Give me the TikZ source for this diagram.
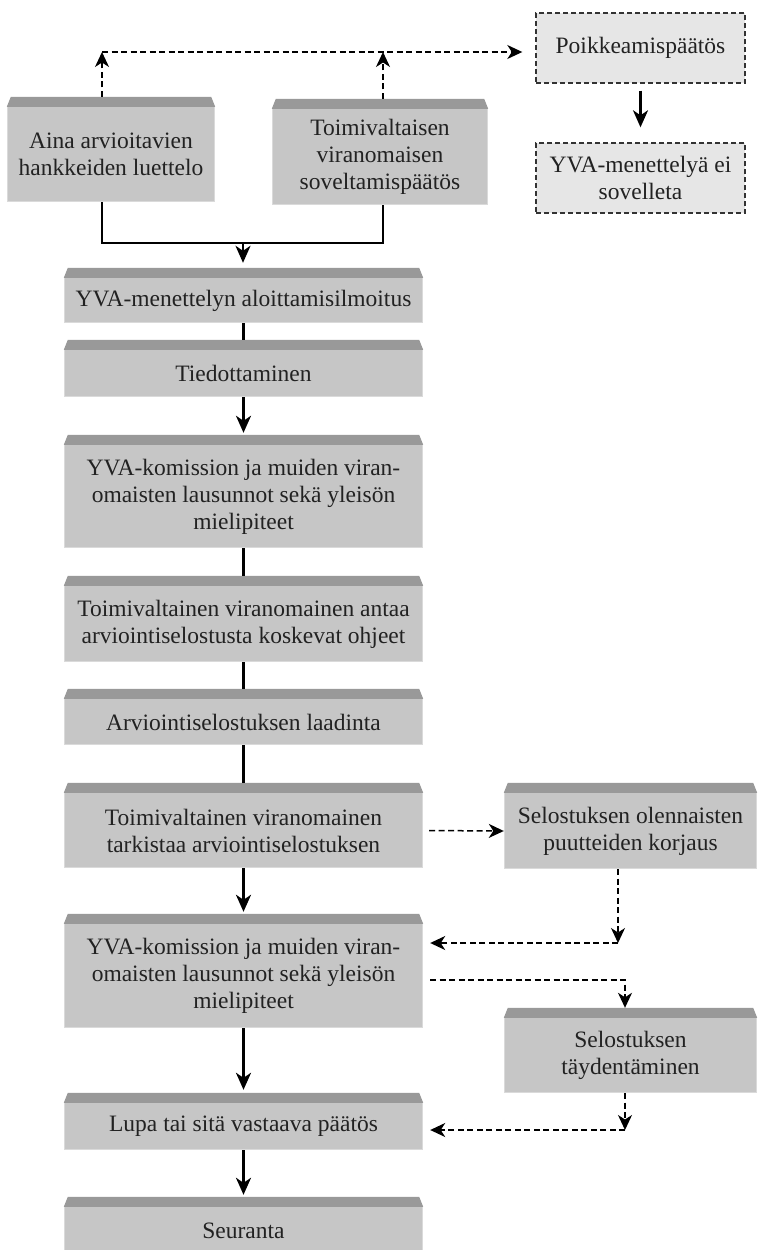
\documentclass[tikz,border=0pt]{standalone}
\usepackage{fontspec}
\setmainfont{Liberation Serif}
\usetikzlibrary{arrows.meta,backgrounds}
\definecolor{bodyc}{HTML}{C6C6C6}
\definecolor{stripc}{HTML}{999999}
\definecolor{edgec}{HTML}{DADADA}
\definecolor{dashfill}{HTML}{E6E6E6}
\definecolor{dashline}{HTML}{333333}
\definecolor{txt}{HTML}{222222}
\begin{document}
\begin{tikzpicture}[x=1pt,y=-1pt,
  procbox/.style={inner sep=0pt, align=center, text=txt, font=\fontsize{23.5}{27}\selectfont},
  dashbox/.style={procbox, draw=dashline, fill=dashfill, line width=1.4pt, dash pattern=on 5pt off 3pt},
  solidline/.style={line width=2.2pt, black},
  solidarrow/.style={solidline, -{Stealth[length=17pt,width=15pt,inset=5pt]}},
  dashline/.style={line width=1.5pt, black, dash pattern=on 6pt off 3.5pt},
  dasharrow/.style={dashline, -{Stealth[length=15pt,width=14pt,inset=4.5pt]}}]
\useasboundingbox (0,0) rectangle (760,1250);
\clip (0,0) rectangle (760,1250);

% process boxes (body part; top strip drawn on background)
\node[procbox, minimum width=208pt, minimum height=95pt] (nA) at (111,154.5) {Aina arvioitavien\\hankkeiden luettelo};
\node[procbox, minimum width=216pt, minimum height=96pt] (nB) at (380,157) {Toimivaltaisen\\viranomaisen\\soveltamispäätös};
\node[dashbox, minimum width=209pt, minimum height=70pt] (nP) at (640.5,48) {Poikkeamispäätös};
\node[dashbox, minimum width=209pt, minimum height=70pt] (nQ) at (640.5,178) {YVA-menettelyä ei\\sovelleta};

\node[procbox, minimum width=359pt, minimum height=45pt] (nC) at (243.5,300.5) {YVA-menettelyn aloittamisilmoitus};
\node[procbox, minimum width=359pt, minimum height=47pt] (nD) at (243.5,373.5) {Tiedottaminen};
\node[procbox, minimum width=359pt, minimum height=103pt] (nE) at (243.5,496.5) {YVA-komission ja muiden viran-\\omaisten lausunnot sekä yleisön\\mielipiteet};
\node[procbox, minimum width=359pt, minimum height=76pt] (nF) at (243.5,624) {Toimivaltainen viranomainen antaa\\arviointiselostusta koskevat ohjeet};
\node[procbox, minimum width=359pt, minimum height=46pt] (nG) at (243.5,722) {Arviointiselostuksen laadinta};
\node[procbox, minimum width=359pt, minimum height=75pt] (nH) at (243.5,830.5) {Toimivaltainen viranomainen\\tarkistaa arviointiselostuksen};
\node[procbox, minimum width=359pt, minimum height=104pt] (nI) at (243.5,976) {YVA-komission ja muiden viran-\\omaisten lausunnot sekä yleisön\\mielipiteet};
\node[procbox, minimum width=359pt, minimum height=47pt] (nJ) at (243.5,1126.5) {Lupa tai sitä vastaava päätös};
\node[procbox, minimum width=359pt, minimum height=47pt] (nK) at (243.5,1230.5) {Seuranta};

\node[procbox, minimum width=253pt, minimum height=76pt] (nS1) at (630.5,831) {Selostuksen olennaisten\\puutteiden korjaus};
\node[procbox, minimum width=253pt, minimum height=75pt] (nS2) at (630.5,1055.5) {Selostuksen\\täydentäminen};

\begin{scope}[on background layer]
\foreach \n in {nA,nB,nC,nD,nE,nF,nG,nH,nI,nJ,nK,nS1,nS2} {
  \fill[edgec] (\n.north west) rectangle (\n.south east);
  \fill[bodyc] ([xshift=1pt]\n.north west) rectangle ([xshift=-1pt,yshift=1pt]\n.south east);
  \fill[stripc] (\n.north west) -- ([xshift=4pt,yshift=10pt]\n.north west)
     -- ([xshift=-4pt,yshift=10pt]\n.north east) -- (\n.north east) -- cycle;
  \coordinate (\n-t) at ([yshift=10pt]\n.north);
}
\end{scope}

% helper coordinates
\coordinate (hl) at (102,52);
\coordinate (hb) at (383,52);
\coordinate (jn) at (243,243);
\coordinate (c1) at (618,943);
\coordinate (c2) at (625,980);
\coordinate (c3) at (625,1130);

% top dashed connectors
\draw[dasharrow] (nA-t -| hl) -- (hl);
\draw[dasharrow] (nB-t -| hb) -- (hb);
\draw[dasharrow, shorten >=13pt] (hl) -- (hl -| nP.west);
\draw[solidarrow, shorten <=7pt, shorten >=15pt] (nP.south) -- (nQ.north);

% join of A and B
\draw[solidline] (nA.south -| hl) -- (hl |- jn) -- (hb |- jn) -- (nB.south -| hb);
\draw[solidarrow, shorten >=5pt] (jn) -- (jn |- nC-t);

% main column
\draw[solidline] (nC.south) -- (nD-t);
\draw[solidarrow, shorten >=2pt] (nD.south) -- (nE-t);
\draw[solidline] (nE.south) -- (nF-t);
\draw[solidline] (nF.south) -- (nG-t);
\draw[solidline] (nG.south) -- (nH-t);
\draw[solidarrow, shorten >=2pt] (nH.south) -- (nI-t);
\draw[solidarrow, shorten >=3pt] (nI.south) -- (nJ-t);
\draw[solidarrow, shorten >=2pt] (nJ.south) -- (nK-t);

% side loops
\draw[dasharrow, shorten <=6pt] (nH.east) -- (nS1.west);
\draw[dasharrow] (nS1.south -| c1) -- (c1);
\draw[dasharrow, shorten >=7pt] (c1) -- (c1 -| nI.east);
\draw[dasharrow, shorten <=7pt] (c2 -| nI.east) -- (c2) -- (c2 |- nS2-t);
\draw[dasharrow] (nS2.south -| c3) -- (c3);
\draw[dasharrow, shorten >=7pt] (c3) -- (c3 -| nJ.east);
\end{tikzpicture}
\end{document}
